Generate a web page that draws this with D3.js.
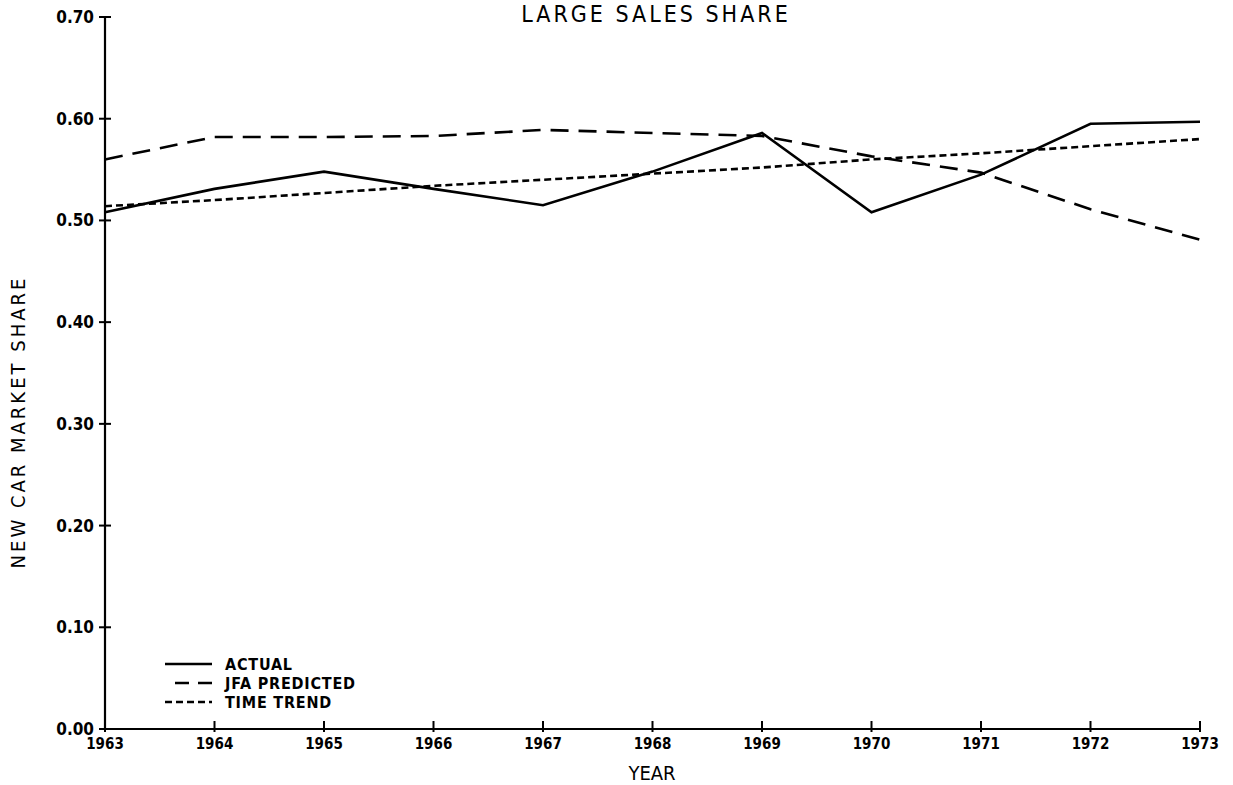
<!DOCTYPE html>
<html><head><meta charset="utf-8">
<script src="https://cdn.jsdelivr.net/npm/d3@7"></script>
<style>
body{margin:0;background:#fff;}
text{font-family:"DejaVu Sans Condensed","Liberation Sans Narrow",sans-serif;fill:#000;}
</style></head><body>
<svg id="c" width="1233" height="785"></svg>
<script>
const years = [1963,1964,1965,1966,1967,1968,1969,1970,1971,1972,1973];
const actual = [0.508,0.531,0.548,0.531,0.515,0.548,0.586,0.508,0.545,0.595,0.597];
const jfaPredicted = [0.560,0.582,0.582,0.583,0.589,0.586,0.583,0.563,0.547,0.511,0.481];
const timeTrend = [0.514,0.520,0.527,0.534,0.540,0.546,0.552,0.560,0.566,0.573,0.580];
const yTicks = [0,0.1,0.2,0.3,0.4,0.5,0.6,0.7];
const seriesNames = ["ACTUAL","JFA PREDICTED","TIME TREND"];

const svg = d3.select("#c");
const L=105, R=1200, T=17, B=729;
const x = d3.scaleLinear().domain([1963,1973]).range([L,R]);
const y = d3.scaleLinear().domain([0,0.7]).range([B,T]);

svg.append("line").attr("x1",L).attr("x2",L).attr("y1",T).attr("y2",B).attr("stroke","#000").attr("stroke-width",2.2);
svg.append("line").attr("x1",L).attr("x2",R).attr("y1",B).attr("y2",B).attr("stroke","#000").attr("stroke-width",2.2);

yTicks.forEach(v=>{
  svg.append("line").attr("x1",L-6).attr("x2",L+6).attr("y1",y(v)).attr("y2",y(v)).attr("stroke","#000").attr("stroke-width",2);
  svg.append("text").attr("x",L-11).attr("y",y(v)+6).attr("text-anchor","end")
    .attr("font-size",17).attr("font-weight","bold").text(v.toFixed(2));
});
years.forEach(v=>{
  svg.append("line").attr("x1",x(v)).attr("x2",x(v)).attr("y1",B-8).attr("y2",B+3).attr("stroke","#000").attr("stroke-width",2);
  svg.append("text").attr("x",x(v)).attr("y",B+20).attr("text-anchor","middle")
    .attr("font-size",15).attr("font-weight","bold").text(v);
});

svg.append("text").attr("x",656).attr("y",22).attr("text-anchor","middle").attr("font-size",23).attr("letter-spacing",3).text("LARGE SALES SHARE");
svg.append("text").attr("x",652).attr("y",780).attr("text-anchor","middle").attr("font-size",20).text("YEAR");
svg.append("text").attr("transform","translate(25,422) rotate(-90)").attr("text-anchor","middle").attr("font-size",20).attr("letter-spacing",3).text("NEW CAR MARKET SHARE");

const dashes = [null,"18,10","7,4"];
const data = [actual,jfaPredicted,timeTrend];
const line = d3.line().x((d,i)=>x(years[i])).y(d=>y(d));
data.forEach((s,k)=>{
  svg.append("path").attr("d",line(s)).attr("fill","none").attr("stroke","#000")
    .attr("stroke-width",2.6).attr("stroke-dasharray",dashes[k]);
});

const ly=[664,683,702];
seriesNames.forEach((n,k)=>{
  svg.append("line").attr("x1",k===1?175:165).attr("x2",212).attr("y1",ly[k]).attr("y2",ly[k])
    .attr("stroke","#000").attr("stroke-width",2.4).attr("stroke-dasharray",k===1?"14,9":dashes[k]);
  svg.append("text").attr("x",225).attr("y",ly[k]+6).attr("font-size",16).attr("font-weight","bold").attr("letter-spacing",0.8).text(n);
});
</script></body></html>
